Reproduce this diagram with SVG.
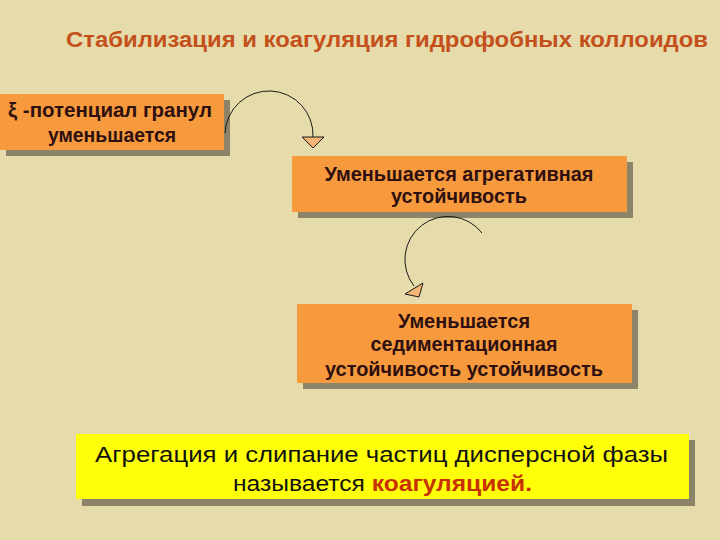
<svg xmlns="http://www.w3.org/2000/svg" width="720" height="540" viewBox="0 0 720 540">
<style>
.bg{fill:#E6DBAB}
.sh{fill:#8C8468}
.box{fill:#F7993D}
.ybox{fill:#FFFF0A}
.t{font-family:"Liberation Sans","Noto Sans",Arial,sans-serif;font-weight:bold;font-size:20px;fill:#2E1010;text-anchor:middle}
.title{font-family:"Liberation Sans","Noto Sans",Arial,sans-serif;font-weight:bold;font-size:22px;fill:#C4501C}
.yt{font-family:"Liberation Sans","Noto Sans",Arial,sans-serif;font-size:22px;fill:#111111;text-anchor:middle}
.red{font-weight:bold;fill:#C83200}
.arc{fill:none;stroke:#1A1A1A;stroke-width:1}
.head{fill:#F6B575;stroke:#1A1A1A;stroke-width:1;stroke-linejoin:miter}
</style>
<rect class="bg" x="0" y="0" width="720" height="540"/>
<text class="title" x="66" y="47" textLength="642" lengthAdjust="spacingAndGlyphs">Стабилизация и коагуляция гидрофобных коллоидов</text>
<g id="node1">
<rect class="sh" x="6" y="100" width="224" height="56"/>
<rect class="box" x="0" y="94" width="224" height="56"/>
<text class="t" x="110" y="117" textLength="204" lengthAdjust="spacingAndGlyphs">ξ -потенциал гранул</text>
<text class="t" x="112" y="142" textLength="128" lengthAdjust="spacingAndGlyphs">уменьшается</text>
</g>
<g id="node2">
<rect class="sh" x="298" y="162" width="335" height="56"/>
<rect class="box" x="292" y="156" width="335" height="56"/>
<text class="t" x="459" y="181" textLength="269" lengthAdjust="spacingAndGlyphs">Уменьшается агрегативная</text>
<text class="t" x="459" y="203" textLength="136" lengthAdjust="spacingAndGlyphs">устойчивость</text>
</g>
<g id="node3">
<rect class="sh" x="303" y="310" width="335" height="79"/>
<rect class="box" x="297" y="304" width="335" height="79"/>
<text class="t" x="464" y="328" textLength="132" lengthAdjust="spacingAndGlyphs">Уменьшается</text>
<text class="t" x="464" y="351" textLength="187" lengthAdjust="spacingAndGlyphs">седиментационная</text>
<text class="t" x="464" y="376" textLength="278" lengthAdjust="spacingAndGlyphs">устойчивость устойчивость</text>
</g>
<g id="node4">
<rect class="sh" x="82" y="440" width="613" height="66"/>
<rect class="ybox" x="76" y="434" width="613" height="65"/>
<text class="yt" x="381.5" y="462" textLength="573" lengthAdjust="spacingAndGlyphs">Агрегация и слипание частиц дисперсной фазы</text>
<text class="yt" x="382.5" y="491" textLength="299" lengthAdjust="spacingAndGlyphs">называется <tspan class="red">коагуляцией.</tspan></text>
</g>
<g id="connectors">
<path class="arc" d="M225,133 A44,44 0 0 1 313,137"/>
<polygon class="head" points="302,137 324,137 313,148"/>
<path class="arc" d="M482,233 A43,43 0 0 0 414,286"/>
<polygon class="head" points="405,294 423,283 419,297"/>
</g>
</svg>
